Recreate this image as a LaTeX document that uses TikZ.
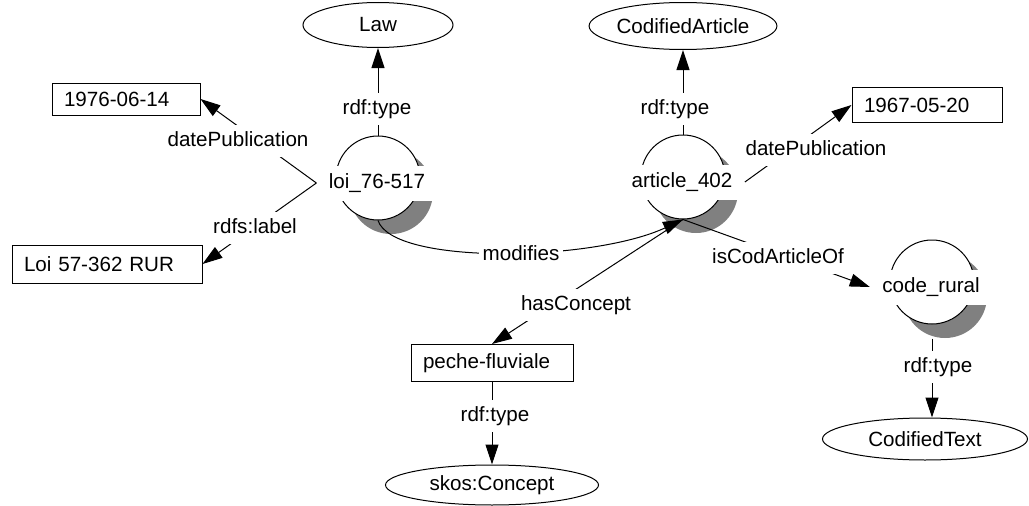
\documentclass[tikz,border=0pt]{standalone}
\usepackage{fontspec}
\setmainfont{Liberation Sans}
\usetikzlibrary{arrows.meta,shapes.geometric}
\begin{document}
\begin{tikzpicture}[x=1pt,y=-1pt,line width=1pt,font=\fontsize{20.6}{24}\selectfont,
    lit/.style={draw,minimum height=35pt,inner xsep=12pt,inner ysep=0pt,align=left,text width=#1},
    cls/.style={draw,ellipse,inner sep=0pt},
    res/.style={draw,circle,fill=white,minimum size=84pt,inner sep=0pt},
    shd/.style={circle,fill=black!50,minimum size=84pt,inner sep=0pt},
    reslbl/.style={fill=white,inner xsep=12pt,inner ysep=0pt,minimum height=35pt},
    lbl/.style={fill=white,inner xsep=4pt,inner ysep=6pt,text height=14.8pt,text depth=4.3pt},
    arr/.style={-{Triangle[length=20pt,width=13pt]}}]
    \useasboundingbox (0,0) rectangle (1029,506);
    \foreach \n/\x/\y/\lab in {loi/378/178/loi\_76-517,art/683/177/article\_402,rur/932/282/code\_rural}
    {\node[shd] (sh\n) at (\x+13,\y+14) {};
        \node[res] (\n) at (\x,\y) {};
        \node[reslbl] (txt\n) at (\x-1,\y+5) {\lab};}
    \node[cls,minimum width=150pt,minimum height=45pt] (law) at (378,25) {Law};
    \node[cls,minimum width=178pt,minimum height=47pt] (codart) at (683,26) {CodifiedArticle};
    \node[cls,minimum width=205pt,minimum height=42pt] (codtext) at (925,439) {CodifiedText};
    \node[cls,minimum width=213pt,minimum height=40pt] (skos) at (492,485) {skos:Concept};
    \node[lit=124pt,minimum height=32pt] (d1976) at (126,99) {1976-06-14};
    \node[lit=166pt,minimum height=38pt] (loi57) at (107,264) {Loi 57-362 RUR};
    \node[lit=126pt] (d1967) at (927,105) {1967-05-20};
    \node[lit=138pt,minimum height=37pt] (peche) at (492,363) {peche-fluviale};
    \draw[arr] (loi) -- (law);
    \draw[arr] (art) -- (codart);
    \draw[arr] (txtloi.west) -- (d1976.east);
    \draw[arr] (txtloi.west) -- (loi57.east);
    \draw[arr] (txtart.east) -- (d1967.west);
    \draw[arr] (loi.south) .. controls +(15,45) and +(-90,42) .. (art.south);
    \draw[arr] (art.south) -- (peche.north);
    \draw[arr] (art.south) -- (txtrur.west);
    \draw[arr] (rur |- shrur.south) -- (rur |- codtext.north);
    \draw[arr] (peche) -- (skos);
    \foreach \x/\y/\lab [count=\i] in {377/109/rdf:type,675/109/rdf:type,238/141/datePublication,255/228/rdfs:label,521/255/modifies,576/305/hasConcept,816/150/datePublication,778/258/isCodArticleOf,938/367/rdf:type,495/416/rdf:type}
    \node[lbl] (e\i) at (\x,\y) {\lab};
\end{tikzpicture}
\end{document}
